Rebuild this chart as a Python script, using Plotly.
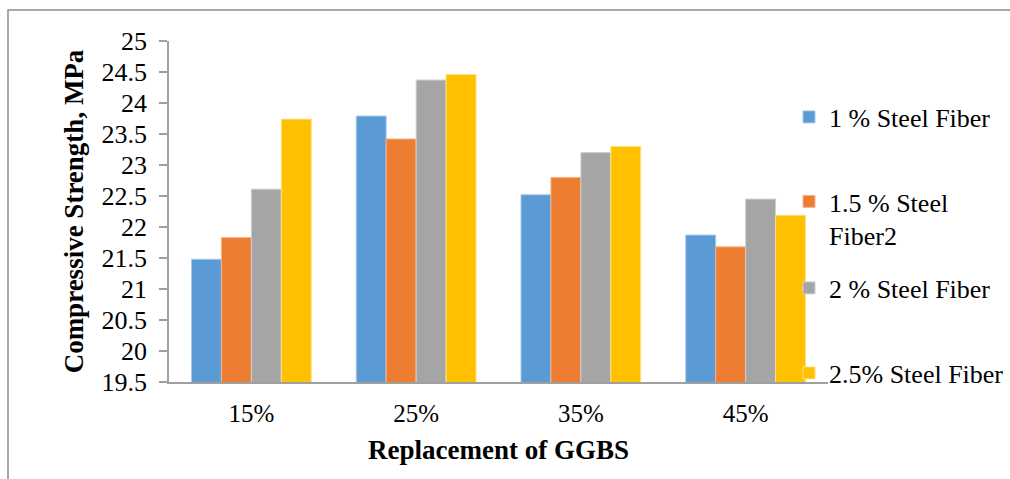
import plotly.graph_objects as go

# Compressive strength (MPa) by GGBS replacement level and steel-fibre dosage
categories = ["15%", "25%", "35%", "45%"]
series_names = ["1 % Steel Fiber", "1.5 % Steel<br>Fiber2", "2 % Steel Fiber", "2.5% Steel Fiber"]
fiber_1_0 = [21.48, 23.79, 22.52, 21.87]
fiber_1_5 = [21.83, 23.42, 22.80, 21.68]
fiber_2_0 = [22.61, 24.37, 23.20, 22.45]
fiber_2_5 = [23.74, 24.46, 23.30, 22.19]
y_ticks = [19.5, 20, 20.5, 21, 21.5, 22, 22.5, 23, 23.5, 24, 24.5, 25]

series_values = [fiber_1_0, fiber_1_5, fiber_2_0, fiber_2_5]
colors = ["#5b9bd5", "#ed7d31", "#a5a5a5", "#ffc000"]
edge_colors = ["#a9c8ea", "#f4b48a", "#cfcfcf", "#ffe08a"]

W, H = 1010, 479
ML, MR, MT, MB = 169, 182, 41, 97
PW, PH = W - ML - MR, H - MT - MB

def px_x(x):
    return (x - ML) / PW

def px_y(y):
    return (H - MB - y) / PH

FONT = "Liberation Serif"
legend_ids = ["legend", "legend2", "legend3", "legend4"]
legend_y = [117, 178, 288, 373]

fig = go.Figure()
for name, vals, c, ec, lid in zip(series_names, series_values, colors, edge_colors, legend_ids):
    fig.add_trace(go.Bar(
        x=categories, y=vals, name=name, legend=lid,
        marker=dict(color=c, line=dict(color=ec, width=1)),
    ))

layout_legends = {}
for lid, ly in zip(legend_ids, legend_y):
    layout_legends[lid] = dict(
        x=px_x(789), y=px_y(ly), xanchor="left",
        yanchor="top" if lid == "legend2" else "middle",
        bgcolor="rgba(0,0,0,0)", borderwidth=0, valign="top",
        font=dict(family=FONT, size=26, color="#000000"),
        itemclick=False, itemdoubleclick=False,
    )

axis_gray = "#a0a0a0"
fig.update_layout(
    width=W, height=H,
    margin=dict(l=ML, r=MR, t=MT, b=MB, pad=0, autoexpand=False),
    paper_bgcolor="white", plot_bgcolor="white",
    barmode="group", bargap=0.273, bargroupgap=0,
    font=dict(family=FONT, color="#000000"),
    showlegend=True,
    xaxis=dict(
        showgrid=False, showline=True, linecolor=axis_gray, linewidth=1.5,
        ticks="", ticklabelstandoff=8,
        tickfont=dict(family=FONT, size=25, color="#000000"),
        title=dict(text="<b>Replacement of GGBS</b>",
                   font=dict(family=FONT, size=27, color="#000000"), standoff=14),
    ),
    yaxis=dict(
        range=[19.5, 25], tickvals=y_ticks, ticktext=[f"{v:g}" for v in y_ticks],
        showgrid=False, zeroline=False, showline=True, linecolor=axis_gray, linewidth=1.5,
        ticks="outside", ticklen=8, tickcolor=axis_gray, tickwidth=1.5,
        ticklabelstandoff=7,
        tickfont=dict(family=FONT, size=26, color="#000000"),
        title=dict(text="<b>Compressive Strength, MPa</b>",
                   font=dict(family=FONT, size=27, color="#000000"), standoff=10),
    ),
    shapes=[dict(
        type="rect", xref="paper", yref="paper",
        x0=px_x(8), x1=px_x(1030), y0=px_y(500), y1=px_y(10),
        line=dict(color="#8c8c8c", width=1.5), fillcolor="rgba(0,0,0,0)", layer="below",
    )],
    **layout_legends,
)

fig.write_html("out.html")
